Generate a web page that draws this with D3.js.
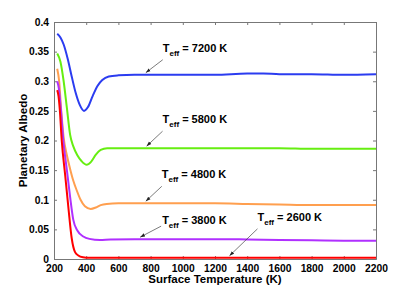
<!DOCTYPE html>
<html>
<head>
<meta charset="utf-8">
<script src="https://cdn.jsdelivr.net/npm/d3@7"></script>
<style>
  body { margin: 0; background: #fff; }
  text { font-family: "Liberation Sans", Arial, sans-serif; font-weight: bold; }
</style>
</head>
<body>
<div id="chart-area"></div>
<script>
// data
const xTicks = [200, 400, 600, 800, 1000, 1200, 1400, 1600, 1800, 2000, 2200];
const yTicks = [0, 0.05, 0.1, 0.15, 0.2, 0.25, 0.3, 0.35, 0.4];

const tBlue = [220, 240, 260, 285, 310, 335, 360, 386, 410, 440, 470, 500, 540, 600, 700, 800, 1000, 1200, 1400, 1500, 1600, 1800, 2000, 2200];
const aBlue = [0.380, 0.374, 0.362, 0.338, 0.308, 0.280, 0.260, 0.250, 0.256, 0.275, 0.292, 0.302, 0.308, 0.310, 0.311, 0.311, 0.311, 0.311, 0.313, 0.313, 0.312, 0.312, 0.311, 0.312];

const tGreen = [220, 240, 260, 280, 300, 320, 345, 372, 403, 430, 460, 490, 530, 600, 800, 1000, 1200, 1400, 1600, 1800, 2000, 2200];
const aGreen = [0.347, 0.333, 0.300, 0.255, 0.210, 0.190, 0.175, 0.165, 0.159, 0.164, 0.176, 0.184, 0.187, 0.187, 0.187, 0.187, 0.187, 0.187, 0.187, 0.186, 0.186, 0.186];

const tOrange = [220, 232, 245, 260, 280, 300, 320, 341, 365, 392, 428, 460, 490, 527, 600, 800, 1000, 1200, 1400, 1600, 1800, 2000, 2200];
const aOrange = [0.321, 0.300, 0.250, 0.205, 0.175, 0.152, 0.132, 0.116, 0.100, 0.089, 0.0845, 0.087, 0.091, 0.093, 0.094, 0.094, 0.094, 0.094, 0.093, 0.092, 0.091, 0.091, 0.091];

const tPurple = [220, 230, 242, 258, 280, 300, 320, 345, 382, 420, 486, 550, 700, 1000, 1200, 1400, 1600, 1800, 2000, 2200];
const aPurple = [0.300, 0.288, 0.255, 0.200, 0.150, 0.105, 0.066, 0.048, 0.038, 0.034, 0.032, 0.033, 0.0335, 0.0335, 0.0335, 0.033, 0.032, 0.0315, 0.031, 0.031];

const tRed = [220, 228, 236, 248, 270, 290, 310, 330, 351, 380, 420, 500, 800, 1200, 1600, 2200];
const aRed = [0.285, 0.275, 0.252, 0.200, 0.140, 0.085, 0.035, 0.012, 0.006, 0.003, 0.002, 0.002, 0.002, 0.002, 0.002, 0.002];

const series = [
  { teff: "7200", t: tBlue, a: aBlue, color: "#2b3cf0" },
  { teff: "5800", t: tGreen, a: aGreen, color: "#66ee11" },
  { teff: "4800", t: tOrange, a: aOrange, color: "#ff9f4f" },
  { teff: "3800", t: tPurple, a: aPurple, color: "#b030ff" },
  { teff: "2600", t: tRed, a: aRed, color: "#ff0000" }
];

// where each label's arrow points (temperature on the curve) and pixel offsets
const notes = [
  { s: 0, at: 770, tail: [17, -13], txt: [17, -21] },
  { s: 1, at: 775, tail: [16, -15], txt: [16, -23] },
  { s: 2, at: 770, tail: [16, -15], txt: [16, -23] },
  { s: 3, at: 735, tail: [21, -11], txt: [22, -13] },
  { s: 4, at: 1290, tail: [28, -27], txt: [28, -35] }
];

let margin = { lft: 54, rht: 39, top: 22, bot: 33 };
let width = 415 - margin.lft - margin.rht;
let height = 292 - margin.top - margin.bot;

let svg = d3.select("#chart-area")
  .append("svg")
    .attr("width", 415)
    .attr("height", 292);

let g = svg.append("g")
  .attr("transform", `translate(${margin.lft}, ${margin.top})`);

let x = d3.scaleLinear().domain([200, 2200]).range([0, width]);
let y = d3.scaleLinear().domain([0, 0.4]).range([height, 0]);

// axes with inward ticks, boxed like matlab
const axisColor = "#777";
let tk = 3;
let xAxis = g.append("g")
  .attr("transform", `translate(0, ${height})`)
  .call(d3.axisBottom(x).tickValues(xTicks).tickSize(-tk).tickPadding(6).tickFormat(d3.format("d")));
let xTop = g.append("g")
  .call(d3.axisTop(x).tickValues(xTicks).tickSize(-tk).tickFormat(""));
let yAxis = g.append("g")
  .call(d3.axisLeft(y).tickValues(yTicks).tickSize(-tk).tickPadding(5).tickFormat(d => d === 0 ? "0" : d3.format("")(+d.toFixed(2))));
let yRight = g.append("g")
  .attr("transform", `translate(${width}, 0)`)
  .call(d3.axisRight(y).tickValues(yTicks).tickSize(-tk).tickFormat(""));

[xAxis, xTop, yAxis, yRight].forEach(a => {
  a.select(".domain").attr("stroke", axisColor);
  a.selectAll(".tick line").attr("stroke", axisColor);
  a.selectAll("text").attr("fill", "#000").attr("font-size", "10.3px");
});
xTop.select(".domain").attr("d", `M0.5,0.5H${width + 0.5}`);
yRight.select(".domain").attr("d", `M0.5,0.5V${height + 0.5}`);

// curves
let line = d3.line()
  .x(d => x(d[0]))
  .y(d => y(d[1]))
  .curve(d3.curveMonotoneX);

series.forEach(s => {
  g.append("path")
    .datum(s.t.map((t, i) => [t, s.a[i]]))
    .attr("fill", "none")
    .attr("stroke", s.color)
    .attr("stroke-width", 2)
    .attr("stroke-linejoin", "round")
    .attr("d", line);
});

// arrow marker
svg.append("defs").append("marker")
  .attr("id", "head")
  .attr("viewBox", "0 0 10 10")
  .attr("refX", 10).attr("refY", 5)
  .attr("markerWidth", 7).attr("markerHeight", 7)
  .attr("orient", "auto")
  .append("path")
    .attr("d", "M0,1.5L10,5L0,8.5z")
    .attr("fill", "#222");

notes.forEach(n => {
  let s = series[n.s];
  let px = x(n.at);
  let py = y(d3.scaleLinear().domain(s.t).range(s.a)(n.at)) - 2;
  g.append("line")
    .attr("x1", px + n.tail[0]).attr("y1", py + n.tail[1])
    .attr("x2", px).attr("y2", py)
    .attr("stroke", "#444")
    .attr("stroke-width", 0.7)
    .attr("marker-end", "url(#head)");
  let t = g.append("text")
    .attr("x", px + n.txt[0])
    .attr("y", py + n.txt[1])
    .attr("font-size", "11px");
  t.append("tspan").text("T");
  t.append("tspan").attr("font-size", "8px").attr("dy", 4).text("eff");
  t.append("tspan").attr("dy", -4).text(" = " + s.teff + " K");
});

// axis labels
g.append("text")
  .attr("x", width / 2)
  .attr("y", height + 24)
  .attr("font-size", "11.5px")
  .attr("text-anchor", "middle")
  .text("Surface Temperature (K)");

g.append("text")
  .attr("x", -height / 2)
  .attr("y", -27)
  .attr("font-size", "11.5px")
  .attr("text-anchor", "middle")
  .attr("transform", "rotate(-90)")
  .text("Planetary Albedo");
</script>
</body>
</html>
